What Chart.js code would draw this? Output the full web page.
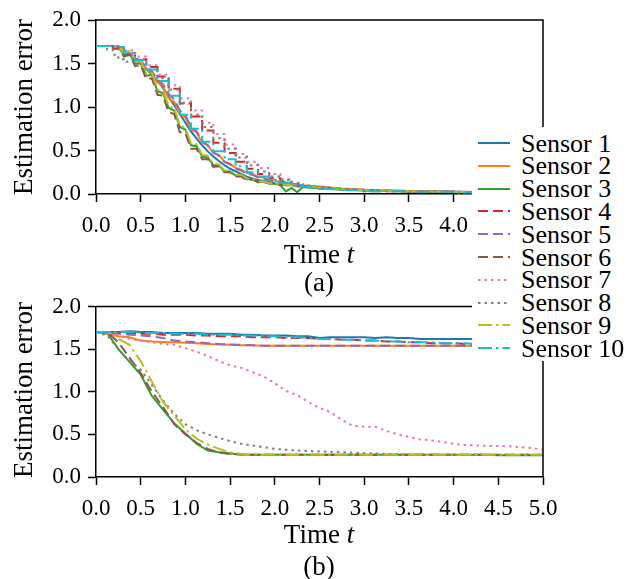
<!DOCTYPE html>
<html>
<head>
<meta charset="utf-8">
<script src="https://cdn.jsdelivr.net/npm/chart.js@4.4.1/dist/chart.umd.min.js"></script>
<style>
body{margin:0;background:#fff;}
#wrap{position:relative;width:628px;height:579px;overflow:hidden;font-family:'Liberation Serif','Times New Roman',serif;color:#000;}
canvas{position:absolute;left:0;}
.lbl{position:absolute;white-space:nowrap;font-size:27px;line-height:1;transform:translate(-50%,-50%);}
.ylab{transform:translate(-50%,-50%) rotate(-90deg);}
#legend{position:absolute;left:472px;top:127px;width:160px;height:234px;background:#fff;z-index:5;}
.row{position:absolute;left:0;height:23px;display:flex;align-items:center;font-size:26px;line-height:23px;white-space:nowrap;}
.row svg{margin-left:6px;margin-right:11px;}
</style>
</head>
<body>
<div id="wrap">
  <canvas id="chartA" width="628" height="288" style="top:0"></canvas>
  <canvas id="chartB" width="628" height="291" style="top:288px"></canvas>
  <div class="lbl ylab" style="left:23px;top:107px">Estimation error</div>
  <div class="lbl ylab" style="left:23px;top:390px">Estimation error</div>
  <div class="lbl" style="left:319px;top:254px">Time <i>t</i></div>
  <div class="lbl" style="left:319px;top:282px">(a)</div>
  <div class="lbl" style="left:319px;top:534px">Time <i>t</i></div>
  <div class="lbl" style="left:319px;top:566px">(b)</div>
  <div id="legend"></div>
</div>
<script>
// ---- data ----
const sensorNames = ['Sensor 1','Sensor 2','Sensor 3','Sensor 4','Sensor 5','Sensor 6','Sensor 7','Sensor 8','Sensor 9','Sensor 10']

// (a) time grid
const tA = [0,0.0625,0.125,0.1875,0.25,0.3125,0.375,0.4375,0.5,0.5625,0.625,0.6875,0.75,0.8125,0.875,0.9375,
  1,1.0625,1.125,1.1875,1.25,1.3125,1.375,1.4375,1.5,1.5625,1.625,1.6875,1.75,1.8125,1.875,1.9375,
  2,2.0625,2.125,2.1875,2.25,2.3125,2.375,2.4375,2.5,2.75,3,3.5,4,4.5,5]

const a1 = [1.70,1.70,1.70,1.70,1.69,1.64,1.60,1.55,1.50,1.44,1.37,1.30,1.22,1.12,1.02,0.92,
  0.82,0.72,0.64,0.56,0.49,0.43,0.38,0.33,0.29,0.26,0.23,0.20,0.18,0.16,0.15,0.135,
  0.12,0.11,0.105,0.10,0.095,0.09,0.085,0.08,0.075,0.058,0.045,0.033,0.025,0.02,0.015]
const a2 = [1.70,1.70,1.70,1.70,1.70,1.65,1.61,1.54,1.51,1.43,1.39,1.28,1.24,1.10,1.06,0.92,
  0.88,0.74,0.71,0.59,0.56,0.47,0.45,0.37,0.35,0.30,0.28,0.24,0.23,0.20,0.19,0.16,
  0.155,0.135,0.13,0.115,0.11,0.10,0.095,0.09,0.085,0.063,0.048,0.034,0.026,0.02,0.016]
const a3 = [1.70,1.70,1.70,1.70,1.69,1.60,1.61,1.50,1.50,1.36,1.37,1.18,1.16,0.99,0.96,0.77,
  0.74,0.56,0.55,0.43,0.42,0.33,0.33,0.26,0.26,0.21,0.21,0.17,0.17,0.14,0.14,0.12,
  0.12,0.10,0.03,0.07,0.02,0.08,0.075,0.07,0.065,0.05,0.04,0.03,0.022,0.018,0.014]
const a4 = [1.70,1.70,1.70,1.70,1.67,1.67,1.62,1.62,1.55,1.55,1.46,1.46,1.35,1.35,1.21,1.21,
  1.04,1.04,0.89,0.89,0.73,0.73,0.59,0.59,0.47,0.47,0.37,0.37,0.29,0.29,0.23,0.23,
  0.18,0.18,0.14,0.14,0.11,0.11,0.09,0.09,0.08,0.06,0.046,0.033,0.025,0.02,0.015]
const a5 = [1.70,1.70,1.70,1.70,1.69,1.66,1.62,1.57,1.53,1.46,1.41,1.32,1.26,1.15,1.09,0.96,
  0.90,0.78,0.72,0.61,0.56,0.48,0.44,0.37,0.34,0.29,0.27,0.23,0.22,0.19,0.18,0.155,
  0.145,0.125,0.12,0.11,0.105,0.095,0.09,0.085,0.08,0.06,0.046,0.033,0.025,0.02,0.015]
const a6 = [1.70,1.70,1.70,1.70,1.68,1.58,1.60,1.47,1.48,1.32,1.33,1.14,1.13,0.94,0.92,0.71,
  0.70,0.52,0.52,0.40,0.40,0.31,0.32,0.25,0.25,0.20,0.20,0.16,0.165,0.135,0.14,0.12,
  0.12,0.105,0.10,0.095,0.09,0.087,0.083,0.08,0.075,0.056,0.043,0.031,0.024,0.019,0.015]
const a7 = [1.70,1.70,1.70,1.70,1.69,1.69,1.65,1.65,1.58,1.58,1.48,1.48,1.37,1.37,1.25,1.25,
  1.10,1.10,0.96,0.96,0.82,0.82,0.69,0.69,0.57,0.57,0.46,0.46,0.37,0.37,0.30,0.30,
  0.23,0.23,0.17,0.17,0.13,0.13,0.10,0.10,0.09,0.065,0.05,0.035,0.027,0.02,0.016]
const a8 = [1.70,1.70,1.70,1.66,1.60,1.55,1.52,1.52,1.48,1.48,1.42,1.42,1.33,1.33,1.20,1.20,
  1.05,1.05,0.91,0.91,0.77,0.77,0.64,0.64,0.52,0.52,0.42,0.42,0.33,0.33,0.26,0.26,
  0.20,0.20,0.16,0.16,0.12,0.12,0.095,0.095,0.085,0.062,0.048,0.034,0.026,0.02,0.016]
const a9 = [1.70,1.70,1.70,1.70,1.70,1.62,1.64,1.52,1.53,1.38,1.39,1.20,1.19,1.01,0.99,0.79,
  0.76,0.58,0.57,0.45,0.44,0.35,0.34,0.27,0.27,0.22,0.22,0.18,0.175,0.145,0.145,0.125,
  0.125,0.11,0.105,0.10,0.095,0.09,0.085,0.08,0.075,0.057,0.044,0.032,0.024,0.019,0.015]
const a10 = [1.70,1.70,1.70,1.70,1.69,1.69,1.62,1.62,1.54,1.54,1.43,1.43,1.30,1.30,1.13,1.13,
  0.91,0.91,0.75,0.75,0.60,0.60,0.49,0.49,0.40,0.40,0.32,0.32,0.25,0.25,0.20,0.20,
  0.16,0.16,0.13,0.13,0.10,0.10,0.085,0.085,0.075,0.058,0.045,0.032,0.025,0.02,0.015]

// (b) time grid
const tB = [0,0.125,0.25,0.375,0.5,0.625,0.75,0.875,1,1.125,1.25,1.375,1.5,1.625,1.75,1.875,
  2,2.125,2.25,2.375,2.5,2.625,2.75,2.875,3,3.125,3.25,3.375,3.5,3.625,3.75,3.875,
  4,4.125,4.25,4.375,4.5,4.625,4.75,4.875,5]

const b1 = [1.70,1.70,1.70,1.71,1.70,1.70,1.69,1.69,1.69,1.69,1.68,1.68,1.68,1.67,1.67,1.66,
  1.66,1.66,1.65,1.65,1.63,1.64,1.64,1.64,1.64,1.63,1.64,1.63,1.63,1.62,1.62,1.62,
  1.62,1.62,1.62,1.61,1.61,1.61,1.61,1.60,1.60]
const b2 = [1.70,1.68,1.65,1.64,1.60,1.59,1.585,1.58,1.575,1.57,1.56,1.555,1.55,1.545,1.545,1.54,
  1.54,1.54,1.54,1.54,1.54,1.54,1.54,1.54,1.54,1.54,1.54,1.54,1.54,1.54,1.54,1.54,
  1.54,1.54,1.54,1.54,1.54,1.535,1.535,1.535,1.535]
const b3 = [1.70,1.69,1.50,1.35,1.20,0.95,0.79,0.63,0.51,0.39,0.31,0.29,0.275,0.265,0.26,0.26,
  0.26,0.26,0.26,0.26,0.26,0.26,0.26,0.26,0.26,0.26,0.26,0.26,0.26,0.26,0.26,0.26,
  0.26,0.26,0.26,0.26,0.255,0.255,0.255,0.255,0.255]
const b4 = [1.70,1.70,1.69,1.69,1.68,1.68,1.67,1.67,1.67,1.66,1.66,1.65,1.65,1.65,1.64,1.64,
  1.64,1.63,1.63,1.63,1.62,1.62,1.61,1.61,1.60,1.60,1.59,1.59,1.58,1.58,1.57,1.57,
  1.57,1.56,1.56,1.56,1.55,1.55,1.55,1.55,1.54]
const b5 = [1.70,1.70,1.68,1.67,1.66,1.65,1.63,1.60,1.59,1.58,1.57,1.56,1.555,1.55,1.545,1.54,
  1.54,1.54,1.54,1.54,1.54,1.54,1.54,1.54,1.54,1.54,1.54,1.54,1.54,1.54,1.54,1.54,
  1.54,1.54,1.54,1.54,1.54,1.54,1.54,1.54,1.54]
const b6 = [1.70,1.70,1.58,1.40,1.22,1.00,0.82,0.62,0.50,0.40,0.33,0.29,0.27,0.265,0.26,0.26,
  0.26,0.26,0.26,0.26,0.26,0.26,0.26,0.26,0.26,0.26,0.26,0.26,0.26,0.26,0.26,0.26,
  0.26,0.26,0.26,0.26,0.26,0.26,0.26,0.26,0.26]
const b7 = [1.70,1.70,1.66,1.62,1.60,1.58,1.56,1.55,1.51,1.47,1.42,1.36,1.31,1.28,1.23,1.18,
  1.10,1.01,0.96,0.88,0.81,0.76,0.67,0.60,0.59,0.59,0.54,0.50,0.47,0.44,0.43,0.41,
  0.39,0.375,0.37,0.365,0.365,0.36,0.35,0.34,0.32]
const b8 = [1.70,1.66,1.50,1.36,1.26,1.08,0.90,0.74,0.62,0.55,0.50,0.46,0.42,0.39,0.37,0.35,
  0.33,0.32,0.31,0.305,0.30,0.295,0.29,0.285,0.28,0.275,0.27,0.27,0.265,0.265,0.26,0.26,
  0.26,0.26,0.26,0.26,0.26,0.26,0.26,0.26,0.26]
const b9 = [1.70,1.70,1.62,1.55,1.36,1.12,0.88,0.72,0.56,0.45,0.38,0.33,0.29,0.27,0.265,0.26,
  0.26,0.26,0.26,0.26,0.26,0.26,0.26,0.26,0.26,0.26,0.26,0.26,0.26,0.26,0.26,0.26,
  0.26,0.26,0.26,0.26,0.26,0.26,0.26,0.26,0.26]
const b10 = [1.70,1.70,1.70,1.70,1.69,1.69,1.69,1.68,1.68,1.68,1.67,1.67,1.67,1.66,1.66,1.65,
  1.65,1.64,1.64,1.63,1.62,1.62,1.61,1.61,1.60,1.60,1.59,1.59,1.58,1.58,1.58,1.57,
  1.57,1.57,1.56,1.56,1.56,1.55,1.55,1.55,1.55]

// ---- styles ----
const SERIF = "'Liberation Serif', 'Times New Roman', serif"
const lineColors = ['#1f77b4','#ff7f0e','#2ca02c','#d62728','#9467bd','#8c564b','#e377c2','#7f7f7f','#bcbd22','#17becf']
const lineDashes = [[],[],[],[10,5],[10,5],[10,5],[2.5,4],[2.5,4],[14,4,2.5,4],[14,4,2.5,4]]
const steppedA = [false,false,false,'after',false,false,'after','after',false,'after']
const steppedB = [false,false,false,false,false,false,false,false,false,false]

// top + right spines (matplotlib box)
const boxPlugin = {
  id: 'box',
  afterDraw(chart){
    const {ctx, chartArea:{left,top,right,bottom}} = chart
    ctx.save()
    ctx.strokeStyle = '#000'
    ctx.lineWidth = 1.5
    ctx.beginPath()
    ctx.moveTo(left, top)
    ctx.lineTo(right, top)
    ctx.lineTo(right, bottom)
    ctx.stroke()
    ctx.restore()
  }
}

function axisGrid(){
  return {display:true, drawOnChartArea:false, drawTicks:true, tickLength:8, tickWidth:1.5, tickColor:'#000'}
}

function buildChart(id, times, series, stepped, padTop, xHeight){
  new Chart(document.getElementById(id), {
    type: 'line',
    data: {
      datasets: series.map((vals, i) => ({
        label: sensorNames[i],
        data: times.map((t, j) => ({x: t, y: vals[j]})),
        borderColor: lineColors[i],
        borderWidth: 2,
        borderDash: lineDashes[i],
        pointRadius: 0,
        fill: false,
        tension: 0,
        stepped: stepped[i],
        order: 10 - i
      }))
    },
    options: {
      responsive: false,
      animation: false,
      events: [],
      layout: {padding: {top: padTop, right: 85, left: 0, bottom: 0}},
      plugins: {legend: {display: false}, tooltip: {enabled: false}},
      scales: {
        x: {
          type: 'linear', min: 0, max: 5,
          ticks: {stepSize: 0.5, color: '#000', font: {family: SERIF, size: 23, lineHeight: 1},
                  padding: 12, autoSkip: false, maxRotation: 0, callback: v => v.toFixed(1)},
          grid: axisGrid(),
          border: {display: true, color: '#000', width: 1.5},
          afterFit: s => { s.height = xHeight }
        },
        y: {
          min: 0, max: 2,
          ticks: {stepSize: 0.5, color: '#000', font: {family: SERIF, size: 23, lineHeight: 1},
                  padding: 7, callback: v => v.toFixed(1)},
          grid: axisGrid(),
          border: {display: true, color: '#000', width: 1.5},
          afterFit: s => { s.width = 96 }
        }
      }
    },
    plugins: [boxPlugin]
  })
}

buildChart('chartA', tA, [a1,a2,a3,a4,a5,a6,a7,a8,a9,a10], steppedA, 20, 94)
buildChart('chartB', tB, [b1,b2,b3,b4,b5,b6,b7,b8,b9,b10], steppedB, 14, 102)

// shared legend drawn over both panels
const legend = document.getElementById('legend')
sensorNames.forEach((name, i) => {
  const row = document.createElement('div')
  row.className = 'row'
  row.style.top = (16 + 22.8 * i - 11.5) + 'px'
  const dash = lineDashes[i].length ? lineDashes[i].join(' ') : 'none'
  row.innerHTML = `<svg width="32" height="10"><line x1="0" y1="5" x2="32" y2="5" stroke="${lineColors[i]}" stroke-width="2" stroke-dasharray="${dash}"/></svg><span>${name}</span>`
  legend.appendChild(row)
})
</script>
</body>
</html>
